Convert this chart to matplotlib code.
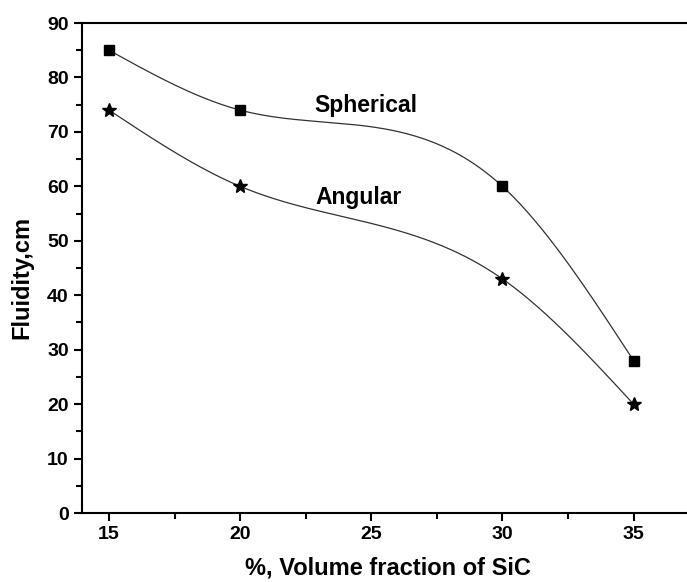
import numpy as np
import matplotlib
matplotlib.use("Agg")
import matplotlib.pyplot as plt
from matplotlib.ticker import MultipleLocator

# data
vol_frac = [15, 20, 30, 35]
spherical = [85, 74, 60, 28]
angular = [74, 60, 43, 20]


def natural_spline(x, y, n=300):
    # plain natural cubic spline, no scipy needed
    x = np.asarray(x, float)
    y = np.asarray(y, float)
    k = len(x)
    h = np.diff(x)
    A = np.zeros((k, k))
    b = np.zeros(k)
    A[0, 0] = 1
    A[-1, -1] = 1
    for i in range(1, k - 1):
        A[i, i - 1] = h[i - 1]
        A[i, i] = 2 * (h[i - 1] + h[i])
        A[i, i + 1] = h[i]
        b[i] = 3 * ((y[i + 1] - y[i]) / h[i] - (y[i] - y[i - 1]) / h[i - 1])
    c = np.linalg.solve(A, b)
    xs = np.linspace(x[0], x[-1], n)
    ys = np.empty_like(xs)
    for j, xv in enumerate(xs):
        i = min(np.searchsorted(x, xv, side="right") - 1, k - 2)
        dx = xv - x[i]
        bi = (y[i + 1] - y[i]) / h[i] - h[i] * (2 * c[i] + c[i + 1]) / 3
        di = (c[i + 1] - c[i]) / (3 * h[i])
        ys[j] = y[i] + bi * dx + c[i] * dx ** 2 + di * dx ** 3
    return xs, ys


plt.rcParams['font.family'] = ['Liberation Sans', 'DejaVu Sans']
plt.rcParams['font.weight'] = 'bold'

fig = plt.figure(figsize=(6.87, 5.82), dpi=100)
ax = fig.add_axes([82 / 687, 1 - 513 / 582, (686 - 82) / 687, (513 - 23) / 582])

for vals, mk, ms in [(spherical, 's', 7), (angular, '*', 10)]:
    xs, ys = natural_spline(vol_frac, vals)
    ax.plot(xs, ys, color='#333333', lw=0.9)
    ax.plot(vol_frac, vals, linestyle='none', marker=mk, ms=ms, color='black')

ax.text(24.8, 74.8, 'Spherical', fontsize=16.5, fontweight='bold', ha='center', va='center')
ax.text(24.5, 58, 'Angular', fontsize=16.5, fontweight='bold', ha='center', va='center')

ax.set_xlim(13.97, 37)
ax.set_ylim(0, 90)
ax.xaxis.set_major_locator(MultipleLocator(5))
ax.xaxis.set_minor_locator(MultipleLocator(2.5))
ax.yaxis.set_major_locator(MultipleLocator(10))
ax.yaxis.set_minor_locator(MultipleLocator(5))
ax.tick_params(which='both', direction='out', width=1.5, labelsize=14)
ax.tick_params(which='major', length=6)
ax.tick_params(which='minor', length=4)
ax.spines['right'].set_visible(False)
for s in ['left', 'bottom', 'top']:
    ax.spines[s].set_linewidth(1.5)

ax.set_xlabel('%, Volume fraction of SiC', fontsize=17, fontweight='bold', va='center')
ax.set_ylabel('Fluidity,cm', fontsize=17, fontweight='bold', va='center')
ax.xaxis.set_label_coords(0.507, -0.112)
ax.yaxis.set_label_coords(-0.099, 0.48)

fig.savefig('out.png', dpi=100)
